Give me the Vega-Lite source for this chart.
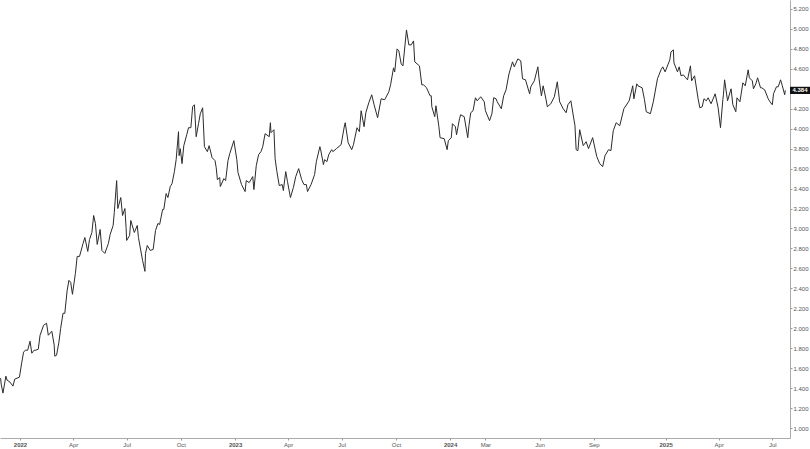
{
  "$schema": "https://vega.github.io/schema/vega-lite/v6.json",
  "width": 790,
  "height": 438,
  "autosize": {"type": "none"},
  "padding": {"left": 0, "top": 0, "right": 20, "bottom": 11},
  "background": "white",
  "config": {"view": {"stroke": null}, "font": "Liberation Sans"},
  "data": {"values": [
    {"date":"2021-11-29","v":1.50},{"date":"2021-11-30","v":1.44},{"date":"2021-12-01","v":1.41},{"date":"2021-12-03","v":1.35},{"date":"2021-12-08","v":1.52},{"date":"2021-12-10","v":1.48},{"date":"2021-12-15","v":1.46},{"date":"2021-12-20","v":1.42},{"date":"2021-12-23","v":1.49},{"date":"2021-12-31","v":1.51},
    {"date":"2022-01-04","v":1.66},{"date":"2022-01-07","v":1.76},{"date":"2022-01-10","v":1.78},{"date":"2022-01-14","v":1.78},{"date":"2022-01-18","v":1.87},{"date":"2022-01-21","v":1.75},{"date":"2022-01-25","v":1.78},{"date":"2022-01-28","v":1.78},
    {"date":"2022-02-01","v":1.79},{"date":"2022-02-04","v":1.93},{"date":"2022-02-10","v":2.03},{"date":"2022-02-15","v":2.05},{"date":"2022-02-18","v":1.93},{"date":"2022-02-24","v":1.97},{"date":"2022-02-28","v":1.83},
    {"date":"2022-03-01","v":1.72},{"date":"2022-03-04","v":1.73},{"date":"2022-03-08","v":1.86},{"date":"2022-03-11","v":2.00},{"date":"2022-03-15","v":2.15},{"date":"2022-03-18","v":2.15},{"date":"2022-03-22","v":2.38},{"date":"2022-03-25","v":2.48},{"date":"2022-03-28","v":2.46},{"date":"2022-03-31","v":2.34},
    {"date":"2022-04-05","v":2.55},{"date":"2022-04-08","v":2.72},{"date":"2022-04-12","v":2.72},{"date":"2022-04-18","v":2.85},{"date":"2022-04-21","v":2.91},{"date":"2022-04-26","v":2.77},{"date":"2022-04-29","v":2.89},
    {"date":"2022-05-03","v":2.96},{"date":"2022-05-06","v":3.13},{"date":"2022-05-09","v":3.05},{"date":"2022-05-12","v":2.84},{"date":"2022-05-17","v":2.99},{"date":"2022-05-20","v":2.78},{"date":"2022-05-25","v":2.75},{"date":"2022-05-31","v":2.85},
    {"date":"2022-06-03","v":2.94},{"date":"2022-06-08","v":3.03},{"date":"2022-06-10","v":3.16},{"date":"2022-06-14","v":3.48},{"date":"2022-06-16","v":3.20},{"date":"2022-06-21","v":3.31},{"date":"2022-06-24","v":3.13},{"date":"2022-06-28","v":3.20},{"date":"2022-06-30","v":3.01},
    {"date":"2022-07-01","v":2.88},{"date":"2022-07-06","v":2.93},{"date":"2022-07-08","v":3.08},{"date":"2022-07-14","v":2.96},{"date":"2022-07-19","v":3.03},{"date":"2022-07-21","v":2.91},{"date":"2022-07-28","v":2.68},{"date":"2022-08-01","v":2.57},
    {"date":"2022-08-02","v":2.75},{"date":"2022-08-05","v":2.83},{"date":"2022-08-10","v":2.78},{"date":"2022-08-15","v":2.79},{"date":"2022-08-19","v":2.98},{"date":"2022-08-23","v":3.05},{"date":"2022-08-26","v":3.04},{"date":"2022-08-31","v":3.19},
    {"date":"2022-09-02","v":3.19},{"date":"2022-09-06","v":3.35},{"date":"2022-09-09","v":3.31},{"date":"2022-09-13","v":3.42},{"date":"2022-09-16","v":3.45},{"date":"2022-09-20","v":3.57},{"date":"2022-09-23","v":3.69},{"date":"2022-09-27","v":3.97},{"date":"2022-09-28","v":3.73},{"date":"2022-09-30","v":3.80},
    {"date":"2022-10-03","v":3.65},{"date":"2022-10-06","v":3.83},{"date":"2022-10-11","v":3.94},{"date":"2022-10-14","v":4.01},{"date":"2022-10-18","v":4.01},{"date":"2022-10-21","v":4.22},{"date":"2022-10-24","v":4.24},{"date":"2022-10-27","v":3.92},{"date":"2022-10-31","v":4.05},
    {"date":"2022-11-03","v":4.15},{"date":"2022-11-07","v":4.21},{"date":"2022-11-10","v":3.82},{"date":"2022-11-15","v":3.77},{"date":"2022-11-18","v":3.83},{"date":"2022-11-23","v":3.71},{"date":"2022-11-28","v":3.68},{"date":"2022-11-30","v":3.61},
    {"date":"2022-12-02","v":3.49},{"date":"2022-12-06","v":3.51},{"date":"2022-12-07","v":3.42},{"date":"2022-12-13","v":3.50},{"date":"2022-12-16","v":3.48},{"date":"2022-12-20","v":3.68},{"date":"2022-12-23","v":3.75},{"date":"2022-12-30","v":3.88},
    {"date":"2023-01-04","v":3.69},{"date":"2023-01-06","v":3.56},{"date":"2023-01-12","v":3.44},{"date":"2023-01-18","v":3.37},{"date":"2023-01-20","v":3.48},{"date":"2023-01-25","v":3.46},{"date":"2023-01-31","v":3.52},
    {"date":"2023-02-02","v":3.39},{"date":"2023-02-06","v":3.63},{"date":"2023-02-10","v":3.74},{"date":"2023-02-14","v":3.77},{"date":"2023-02-17","v":3.82},{"date":"2023-02-21","v":3.95},{"date":"2023-02-28","v":3.92},
    {"date":"2023-03-02","v":4.06},{"date":"2023-03-03","v":3.96},{"date":"2023-03-08","v":3.99},{"date":"2023-03-10","v":3.70},{"date":"2023-03-13","v":3.57},{"date":"2023-03-17","v":3.43},{"date":"2023-03-22","v":3.44},{"date":"2023-03-24","v":3.38},{"date":"2023-03-28","v":3.57},{"date":"2023-03-31","v":3.47},
    {"date":"2023-04-05","v":3.31},{"date":"2023-04-10","v":3.41},{"date":"2023-04-14","v":3.52},{"date":"2023-04-19","v":3.60},{"date":"2023-04-24","v":3.49},{"date":"2023-04-28","v":3.44},
    {"date":"2023-05-02","v":3.44},{"date":"2023-05-04","v":3.37},{"date":"2023-05-10","v":3.44},{"date":"2023-05-16","v":3.54},{"date":"2023-05-19","v":3.67},{"date":"2023-05-25","v":3.82},{"date":"2023-05-26","v":3.80},{"date":"2023-05-31","v":3.64},
    {"date":"2023-06-02","v":3.69},{"date":"2023-06-06","v":3.67},{"date":"2023-06-09","v":3.74},{"date":"2023-06-14","v":3.79},{"date":"2023-06-16","v":3.77},{"date":"2023-06-22","v":3.80},{"date":"2023-06-30","v":3.84},
    {"date":"2023-07-06","v":4.04},{"date":"2023-07-07","v":4.06},{"date":"2023-07-12","v":3.86},{"date":"2023-07-18","v":3.79},{"date":"2023-07-21","v":3.84},{"date":"2023-07-27","v":4.01},{"date":"2023-07-31","v":3.97},
    {"date":"2023-08-03","v":4.18},{"date":"2023-08-08","v":4.02},{"date":"2023-08-11","v":4.16},{"date":"2023-08-16","v":4.26},{"date":"2023-08-21","v":4.34},{"date":"2023-08-25","v":4.24},{"date":"2023-08-31","v":4.11},
    {"date":"2023-09-06","v":4.30},{"date":"2023-09-12","v":4.29},{"date":"2023-09-19","v":4.37},{"date":"2023-09-22","v":4.44},{"date":"2023-09-27","v":4.61},{"date":"2023-09-29","v":4.57},
    {"date":"2023-10-03","v":4.80},{"date":"2023-10-06","v":4.78},{"date":"2023-10-10","v":4.65},{"date":"2023-10-13","v":4.63},{"date":"2023-10-19","v":4.99},{"date":"2023-10-23","v":4.84},{"date":"2023-10-27","v":4.84},{"date":"2023-10-31","v":4.88},
    {"date":"2023-11-02","v":4.67},{"date":"2023-11-06","v":4.65},{"date":"2023-11-10","v":4.63},{"date":"2023-11-14","v":4.44},{"date":"2023-11-17","v":4.44},{"date":"2023-11-22","v":4.41},{"date":"2023-11-28","v":4.33},{"date":"2023-11-30","v":4.33},
    {"date":"2023-12-01","v":4.22},{"date":"2023-12-06","v":4.12},{"date":"2023-12-08","v":4.23},{"date":"2023-12-13","v":4.02},{"date":"2023-12-15","v":3.91},{"date":"2023-12-22","v":3.90},{"date":"2023-12-27","v":3.79},{"date":"2023-12-29","v":3.88},
    {"date":"2024-01-03","v":3.91},{"date":"2024-01-05","v":4.05},{"date":"2024-01-10","v":4.02},{"date":"2024-01-12","v":3.94},{"date":"2024-01-17","v":4.10},{"date":"2024-01-19","v":4.14},{"date":"2024-01-25","v":4.12},{"date":"2024-01-31","v":3.91},
    {"date":"2024-02-02","v":4.03},{"date":"2024-02-05","v":4.16},{"date":"2024-02-09","v":4.18},{"date":"2024-02-13","v":4.31},{"date":"2024-02-16","v":4.28},{"date":"2024-02-22","v":4.32},{"date":"2024-02-28","v":4.27},
    {"date":"2024-03-01","v":4.18},{"date":"2024-03-08","v":4.08},{"date":"2024-03-12","v":4.15},{"date":"2024-03-15","v":4.31},{"date":"2024-03-19","v":4.30},{"date":"2024-03-21","v":4.27},{"date":"2024-03-28","v":4.20},
    {"date":"2024-04-01","v":4.33},{"date":"2024-04-05","v":4.39},{"date":"2024-04-10","v":4.55},{"date":"2024-04-16","v":4.67},{"date":"2024-04-19","v":4.62},{"date":"2024-04-25","v":4.70},{"date":"2024-04-30","v":4.68},
    {"date":"2024-05-03","v":4.50},{"date":"2024-05-08","v":4.49},{"date":"2024-05-15","v":4.35},{"date":"2024-05-17","v":4.42},{"date":"2024-05-23","v":4.48},{"date":"2024-05-29","v":4.62},{"date":"2024-05-31","v":4.50},
    {"date":"2024-06-04","v":4.33},{"date":"2024-06-07","v":4.43},{"date":"2024-06-12","v":4.29},{"date":"2024-06-14","v":4.22},{"date":"2024-06-20","v":4.25},{"date":"2024-06-26","v":4.32},{"date":"2024-07-01","v":4.47},
    {"date":"2024-07-05","v":4.27},{"date":"2024-07-11","v":4.20},{"date":"2024-07-16","v":4.16},{"date":"2024-07-19","v":4.24},{"date":"2024-07-24","v":4.28},{"date":"2024-07-31","v":4.03},
    {"date":"2024-08-02","v":3.79},{"date":"2024-08-05","v":3.78},{"date":"2024-08-08","v":3.99},{"date":"2024-08-14","v":3.83},{"date":"2024-08-19","v":3.87},{"date":"2024-08-23","v":3.80},{"date":"2024-08-30","v":3.91},
    {"date":"2024-09-06","v":3.72},{"date":"2024-09-11","v":3.65},{"date":"2024-09-16","v":3.62},{"date":"2024-09-20","v":3.73},{"date":"2024-09-26","v":3.79},{"date":"2024-09-30","v":3.78},
    {"date":"2024-10-04","v":3.98},{"date":"2024-10-09","v":4.06},{"date":"2024-10-15","v":4.03},{"date":"2024-10-22","v":4.20},{"date":"2024-10-31","v":4.28},
    {"date":"2024-11-06","v":4.43},{"date":"2024-11-08","v":4.30},{"date":"2024-11-13","v":4.45},{"date":"2024-11-15","v":4.43},{"date":"2024-11-22","v":4.41},{"date":"2024-11-26","v":4.29},{"date":"2024-11-29","v":4.17},
    {"date":"2024-12-06","v":4.15},{"date":"2024-12-11","v":4.27},{"date":"2024-12-18","v":4.50},{"date":"2024-12-24","v":4.59},{"date":"2024-12-27","v":4.62},{"date":"2024-12-31","v":4.57},
    {"date":"2025-01-08","v":4.69},{"date":"2025-01-10","v":4.77},{"date":"2025-01-14","v":4.79},{"date":"2025-01-15","v":4.66},{"date":"2025-01-21","v":4.57},{"date":"2025-01-24","v":4.62},{"date":"2025-01-27","v":4.53},{"date":"2025-01-31","v":4.54},
    {"date":"2025-02-04","v":4.51},{"date":"2025-02-07","v":4.49},{"date":"2025-02-12","v":4.63},{"date":"2025-02-14","v":4.48},{"date":"2025-02-19","v":4.53},{"date":"2025-02-25","v":4.30},{"date":"2025-02-28","v":4.21},
    {"date":"2025-03-04","v":4.22},{"date":"2025-03-07","v":4.30},{"date":"2025-03-11","v":4.28},{"date":"2025-03-14","v":4.31},{"date":"2025-03-19","v":4.25},{"date":"2025-03-26","v":4.35},{"date":"2025-03-31","v":4.21},
    {"date":"2025-04-04","v":4.01},{"date":"2025-04-08","v":4.29},{"date":"2025-04-09","v":4.34},{"date":"2025-04-11","v":4.49},{"date":"2025-04-16","v":4.28},{"date":"2025-04-22","v":4.40},{"date":"2025-04-25","v":4.24},{"date":"2025-04-30","v":4.17},
    {"date":"2025-05-02","v":4.31},{"date":"2025-05-07","v":4.27},{"date":"2025-05-12","v":4.46},{"date":"2025-05-16","v":4.43},{"date":"2025-05-21","v":4.59},{"date":"2025-05-23","v":4.51},{"date":"2025-05-28","v":4.48},{"date":"2025-05-30","v":4.40},
    {"date":"2025-06-03","v":4.45},{"date":"2025-06-06","v":4.51},{"date":"2025-06-11","v":4.41},{"date":"2025-06-13","v":4.41},{"date":"2025-06-18","v":4.39},{"date":"2025-06-24","v":4.30},{"date":"2025-06-27","v":4.27},
    {"date":"2025-07-01","v":4.24},{"date":"2025-07-03","v":4.35},{"date":"2025-07-08","v":4.42},{"date":"2025-07-11","v":4.42},{"date":"2025-07-15","v":4.49},{"date":"2025-07-18","v":4.43},{"date":"2025-07-22","v":4.34},{"date":"2025-07-23","v":4.384}
  ]},
  "encoding": {
    "x": {
      "field": "date", "type": "temporal",
      "scale": {"type": "utc", "domain": [{"year": 2021, "month": "nov", "date": 28, "utc": true}, {"year": 2025, "month": "jul", "date": 31, "utc": true}]},
      "axis": {
        "title": null, "grid": false,
        "values": [
          {"year": 2022, "month": "jan", "date": 1, "utc": true},
          {"year": 2022, "month": "apr", "date": 1, "utc": true},
          {"year": 2022, "month": "jul", "date": 1, "utc": true},
          {"year": 2022, "month": "oct", "date": 1, "utc": true},
          {"year": 2023, "month": "jan", "date": 1, "utc": true},
          {"year": 2023, "month": "apr", "date": 1, "utc": true},
          {"year": 2023, "month": "jul", "date": 1, "utc": true},
          {"year": 2023, "month": "oct", "date": 1, "utc": true},
          {"year": 2024, "month": "jan", "date": 1, "utc": true},
          {"year": 2024, "month": "mar", "date": 1, "utc": true},
          {"year": 2024, "month": "jun", "date": 1, "utc": true},
          {"year": 2024, "month": "sep", "date": 1, "utc": true},
          {"year": 2025, "month": "jan", "date": 1, "utc": true},
          {"year": 2025, "month": "apr", "date": 1, "utc": true},
          {"year": 2025, "month": "jul", "date": 1, "utc": true}
        ],
        "labelExpr": "utcmonth(datum.value) == 0 ? utcFormat(datum.value, '%Y') : utcFormat(datum.value, '%b')",
        "labelFontWeight": {"expr": "utcmonth(datum.value) == 0 ? 'bold' : 'normal'"},
        "labelFontSize": 6, "labelColor": "#555555", "labelPadding": 1,
        "tickSize": 2, "tickColor": "#999999", "domainColor": "#aaaaaa", "domainWidth": 1
      }
    },
    "y": {
      "field": "v", "type": "quantitative",
      "scale": {"domain": [0.9, 5.29], "nice": false, "zero": false},
      "axis": {
        "title": null, "orient": "right", "grid": false,
        "values": [1.0, 1.2, 1.4, 1.6, 1.8, 2.0, 2.2, 2.4, 2.6, 2.8, 3.0, 3.2, 3.4, 3.6, 3.8, 4.0, 4.2, 4.4, 4.6, 4.8, 5.0, 5.2],
        "format": ".3f", "labelFontSize": 6, "labelColor": "#555555", "labelPadding": 1,
        "tickSize": 2, "tickColor": "#999999", "domainColor": "#aaaaaa", "domainWidth": 1
      }
    }
  },
  "layer": [
    {"mark": {"type": "line", "color": "#2b2b2b", "strokeWidth": 1, "clip": true}},
    {
      "transform": [{"filter": "datum.v == 4.384"}],
      "mark": {"type": "point", "shape": "M0,-0.36H2V0.36H0Z", "size": 400, "filled": true, "fill": "#111111", "strokeWidth": 0, "opacity": 1, "clip": false},
      "encoding": {"x": {"datum": {"year": 2025, "month": "jul", "date": 31, "utc": true}}}
    },
    {
      "transform": [{"filter": "datum.v == 4.384"}],
      "mark": {"type": "text", "color": "white", "fontSize": 6, "fontWeight": "bold", "align": "center", "baseline": "middle", "dx": 10, "clip": false},
      "encoding": {
        "x": {"datum": {"year": 2025, "month": "jul", "date": 31, "utc": true}},
        "text": {"field": "v", "type": "quantitative", "format": ".3f"}
      }
    }
  ]
}
